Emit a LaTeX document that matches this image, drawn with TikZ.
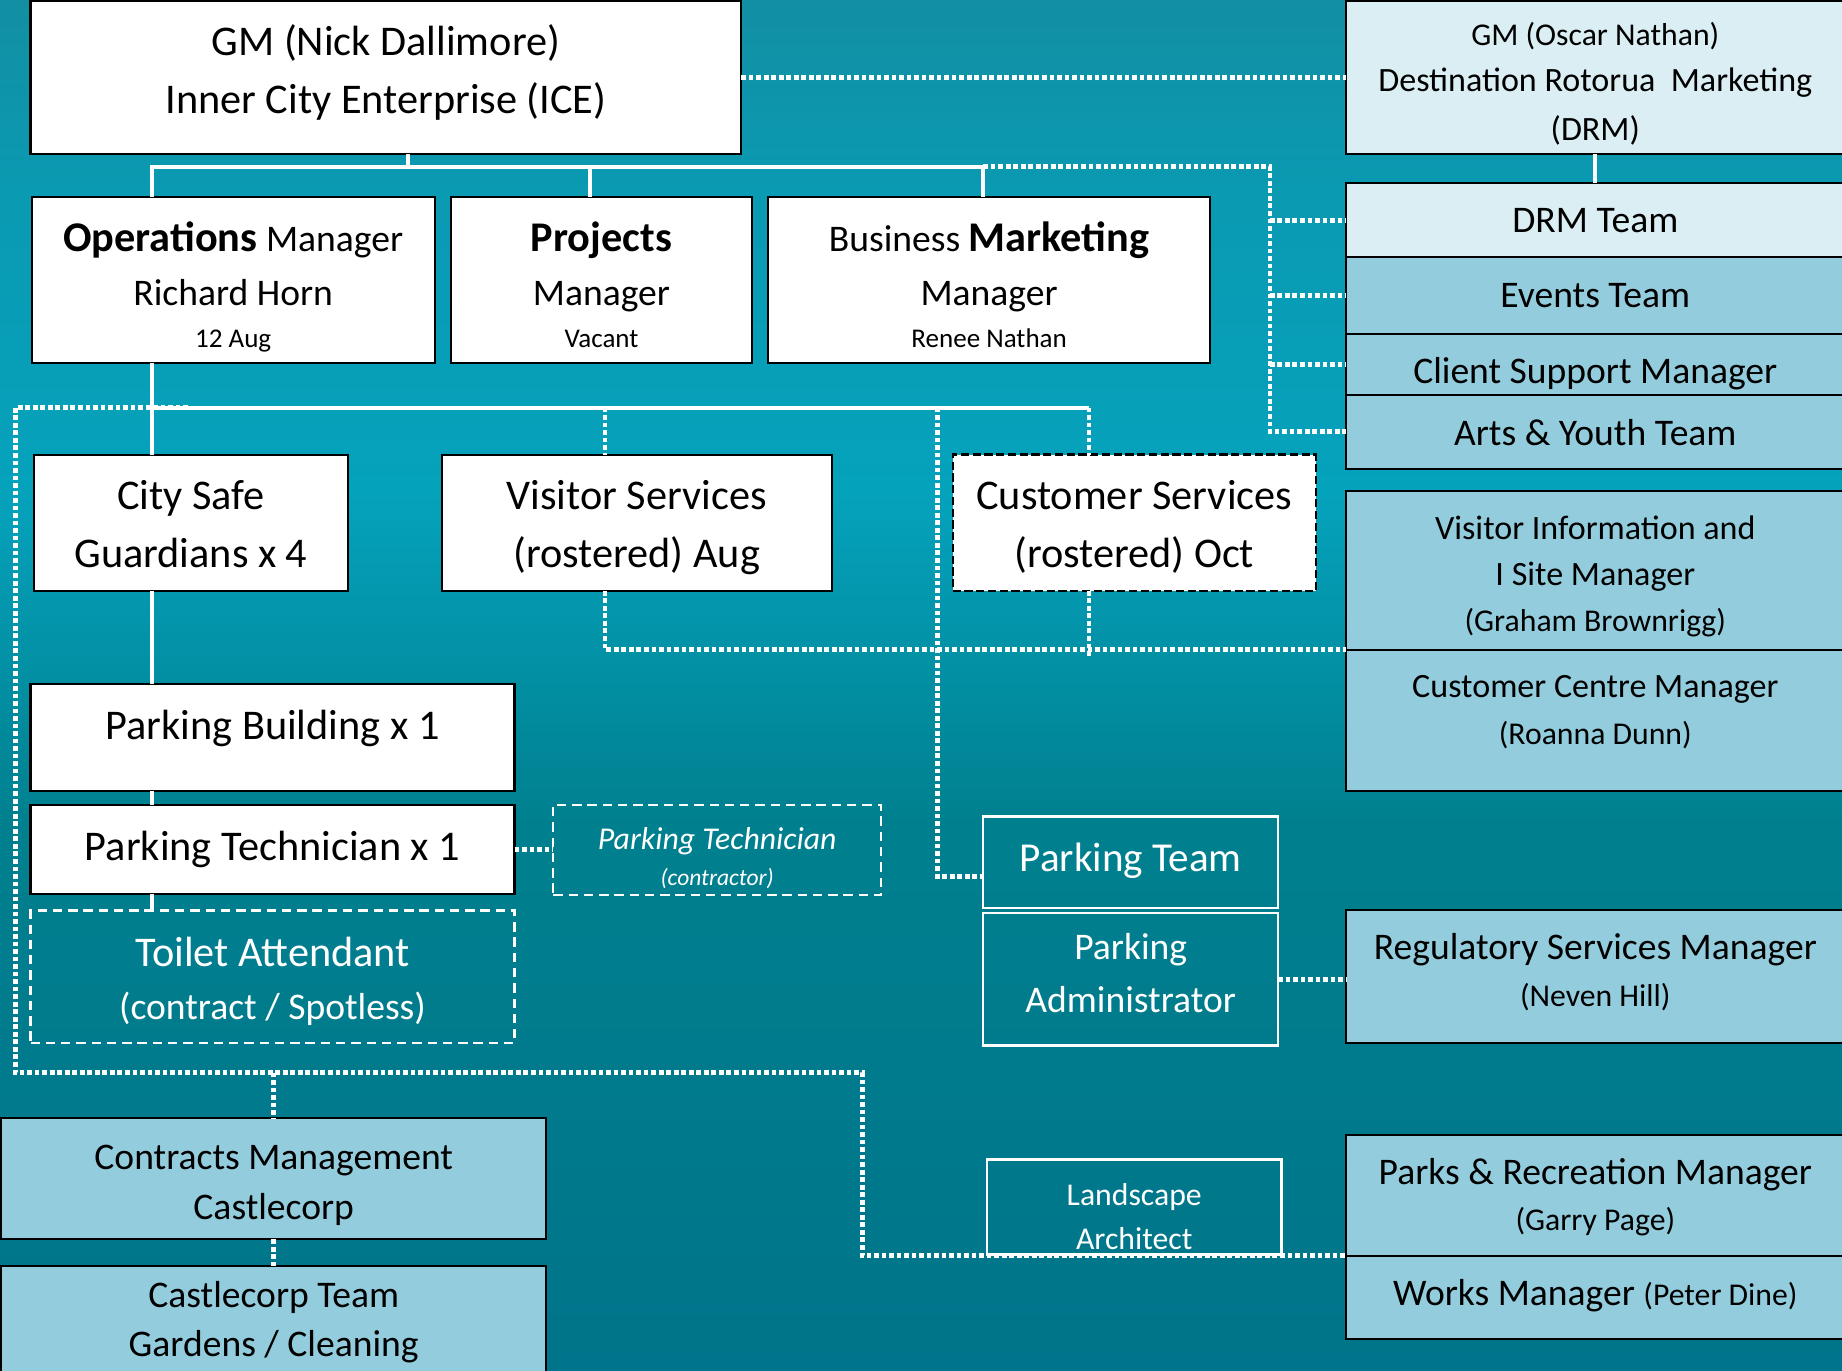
\documentclass[tikz,border=0pt]{standalone}
\usepackage{fontspec}
\setmainfont{Carlito}
\usetikzlibrary{positioning}

\definecolor{drmpale}{HTML}{DAEEF3}
\definecolor{teamblue}{HTML}{93CDDD}
\definecolor{seatop}{HTML}{128FA3}
\definecolor{seamid}{HTML}{0A9AB2}
\definecolor{seabright}{HTML}{05A2BC}
\definecolor{sealow}{HTML}{00808F}
\definecolor{seadeep}{HTML}{00748A}

\pgfdeclareverticalshading{seabg}{100bp}{color(0bp)=(seadeep); color(25bp)=(seadeep); color(45bp)=(sealow); color(57bp)=(seabright); color(68bp)=(seamid); color(75bp)=(seatop); color(100bp)=(seatop)}

\newcommand{\setfs}[2]{\fontsize{#1}{#2}\selectfont}
\newcommand{\upstrut}[1]{\rule{0pt}{#1}}
\newcommand{\dnstrut}[1]{\rule[-#1]{0pt}{#1}}

\begin{document}
\begin{tikzpicture}[x=0.5pt, y=-0.5pt,
            orgbox/.style={draw=black, line width=0.9pt, fill=white, text=black, align=center, inner sep=0pt, outer sep=0pt, anchor=north west},
            palebox/.style={orgbox, fill=drmpale, minimum width=212pt},
            teambox/.style={orgbox, fill=teamblue, minimum width=212pt},
            openbox/.style={orgbox, draw=white, line width=1pt, fill=none, text=white},
            contractbox/.style={openbox, dash pattern=on 4pt off 2.5pt},
            orgline/.style={draw=white, line width=1.7pt},
            dotline/.style={draw=white, line width=2pt, dash pattern=on 2pt off 1.2pt}]

            \useasboundingbox (0,0) rectangle (1568,1167);
            \clip (0,0) rectangle (1568,1167);
            \shade[shading=seabg] (0,0) rectangle (1568,1167);

            % General managers
            \node[orgbox, minimum width=302.5pt, minimum height=65pt, font=\setfs{18}{24.8}] (gmice) at (26,1) {\upstrut{17.5pt}GM (Nick Dallimore)\\Inner City Enterprise (ICE)\dnstrut{11.3pt}};
            \node[palebox, minimum height=65pt, font=\setfs{14.5}{19.6}] (gmdrm) at (1146,1) {\upstrut{18pt}{\setfs{13.5}{19.6}GM (Oscar Nathan)}\\Destination Rotorua\ \ Marketing\\[1.25pt](DRM)\dnstrut{4.6pt}};

            % Managers under ICE
            \node[orgbox, minimum width=171.5pt, minimum height=70.5pt, font=\setfs{16}{23}] (ops) at (27,168) {\upstrut{20pt}{\setfs{18}{23}\bfseries Operations} Manager\\Richard Horn\\[-5.2pt]{\setfs{11.5}{14}12 Aug}\dnstrut{3.5pt}};
            \node[orgbox, minimum width=128pt, minimum height=70.5pt, font=\setfs{16}{23}] (proj) at (384,168) {\upstrut{20pt}{\setfs{18}{23}\bfseries Projects}\\Manager\\[-5.2pt]{\setfs{11.5}{14}Vacant}\dnstrut{3.5pt}};
            \node[orgbox, minimum width=188pt, minimum height=70.5pt, font=\setfs{16}{23}] (bmkt) at (654,168) {\upstrut{20pt}Business {\setfs{18}{23}\bfseries Marketing}\\Manager\\[-5.2pt]{\setfs{11.5}{14}Renee Nathan}\dnstrut{3.5pt}};

            % DRM and council teams (right column)
            \node[palebox, minimum height=31.5pt, font=\setfs{16}{20}] (drmteam) at (1146,156) {\upstrut{16pt}DRM Team\dnstrut{5.7pt}};
            \node[teambox, minimum height=32.5pt, font=\setfs{16}{20}, below=0pt of drmteam] (events) {\upstrut{16pt}Events Team\dnstrut{5.9pt}};
            \node[teambox, minimum height=26pt, font=\setfs{16}{20}, below=0pt of events] (client) {\upstrut{21.4pt}Client Support Manager\dnstrut{4.6pt}};
            \node[teambox, minimum height=31.5pt, font=\setfs{16}{20}, below=0pt of client] (arts) {\upstrut{16pt}Arts \& Youth Team\dnstrut{4.7pt}};
            \node[teambox, minimum height=67.5pt, font=\setfs{14.5}{19.7}] (visinfo) at (1146,418) {\upstrut{17pt}Visitor Information and\\I Site Manager\\{\setfs{13.5}{19.7}(Graham Brownrigg)}\dnstrut{4.2pt}};
            \node[teambox, minimum height=60pt, font=\setfs{14.5}{19.9}, below=0pt of visinfo] (custcentre) {\upstrut{14.5pt}Customer Centre Manager\\{\setfs{13.5}{19.9}(Roanna Dunn)}\dnstrut{14pt}};
            \node[teambox, minimum height=56.5pt, font=\setfs{16}{19.85}] (regsvc) at (1146,775) {\upstrut{15pt}Regulatory Services Manager\\{\setfs{13.5}{19.85}(Neven Hill)}\dnstrut{9.85pt}};
            \node[teambox, minimum height=51.5pt, font=\setfs{16}{19.9}] (parks) at (1146,966) {\upstrut{16pt}Parks \& Recreation Manager\\{\setfs{13.5}{19.9}(Garry Page)}\dnstrut{5.7pt}};
            \node[teambox, minimum height=35.5pt, font=\setfs{16}{20}, below=0pt of parks] (works) {\upstrut{16pt}Works Manager {\setfs{13.5}{20}(Peter Dine)}\dnstrut{9pt}};

            % Operations staff
            \node[orgbox, minimum width=133.5pt, minimum height=58pt, font=\setfs{18}{24.8}] (citysafe) at (29,387) {\upstrut{19.5pt}City Safe\\Guardians x 4\dnstrut{5.8pt}};
            \node[orgbox, minimum width=166pt, minimum height=58pt, font=\setfs{18}{24.8}] (vissvc) at (376,387) {\upstrut{19.5pt}Visitor Services\\(rostered) Aug\dnstrut{5.8pt}};
            \node[orgbox, line width=1pt, dash pattern=on 3.5pt off 1.5pt, minimum width=154.5pt, minimum height=58pt, font=\setfs{18}{24.8}] (custsvc) at (811,387) {\upstrut{19.5pt}Customer Services\\(rostered) Oct\dnstrut{5.8pt}};
            \node[orgbox, minimum width=206pt, minimum height=45.5pt, font=\setfs{18}{25}] (pbuild) at (26,582) {\upstrut{17.5pt}Parking Building x 1\dnstrut{15.3pt}};
            \node[orgbox, minimum width=206pt, minimum height=38pt, font=\setfs{18}{25}, below=6pt of pbuild] (ptech) {\upstrut{17pt}Parking Technician x 1\dnstrut{7.8pt}};
            \node[contractbox, minimum width=139.5pt, minimum height=38.5pt, font={\setfs{13.5}{15.6}\itshape}] (ptcon) at (471,685) {\upstrut{18pt}Parking Technician\\{\setfs{10}{15.6}(contractor)}\dnstrut{3.1pt}};
            \node[contractbox, minimum width=206pt, minimum height=56.5pt, font=\setfs{18}{22.3}, below=7pt of ptech] (toilet) {\upstrut{19pt}Toilet Attendant\\{\setfs{16}{22.3}(contract / Spotless)}\dnstrut{5.3pt}};

            % Parking and landscape
            \node[openbox, minimum width=125.5pt, minimum height=39pt, font=\setfs{17.5}{22}] (pteam) at (837,695) {\upstrut{16.5pt}Parking Team\dnstrut{8.4pt}};
            \node[openbox, minimum width=125.5pt, minimum height=56.5pt, font=\setfs{16}{22.4}, below=2pt of pteam] (padmin) {\upstrut{16pt}Parking\\Administrator\dnstrut{10.1pt}};
            \node[openbox, minimum width=125.5pt, minimum height=40.5pt, font=\setfs{13.5}{18.75}] (landarch) at (840,987) {\upstrut{19pt}Landscape\\Architect\dnstrut{2pt}};

            % Contracts
            \node[teambox, minimum width=232pt, minimum height=51.5pt, font=\setfs{16}{21.55}] (contracts) at (1,952) {\upstrut{17.5pt}Contracts Management\\Castlecorp\dnstrut{4.25pt}};
            \node[teambox, minimum width=232pt, minimum height=53.5pt, font=\setfs{16}{20.6}, below=11.5pt of contracts] (castle) {\upstrut{14pt}Castlecorp Team\\Gardens / Cleaning\dnstrut{11.5pt}};

            % Solid reporting lines
            \coordinate (bus-top) at (347,142);
            \coordinate (drop-ops) at (129,142);
            \coordinate (drop-proj) at (502,142);
            \coordinate (drop-mkt) at (837,142);
            \coordinate (bus-l3) at (129,347);
            \coordinate (bus-l3-end) at (927,347);
            \draw[orgline] (gmice.south -| bus-top) -- (bus-top);
            \draw[orgline] (ops.north -| drop-ops) -- (drop-ops) -- (drop-mkt) -- (bmkt.north -| drop-mkt);
            \draw[orgline] (drop-proj) -- (proj.north -| drop-proj);
            \draw[orgline] (gmdrm.south) -- (drmteam.north);
            \draw[orgline] (ops.south -| bus-l3) -- (citysafe.north -| bus-l3);
            \draw[orgline] (bus-l3) -- (bus-l3-end);
            \draw[orgline] (citysafe.south -| bus-l3) -- (pbuild.north -| bus-l3);
            \draw[orgline] (pbuild.south -| bus-l3) -- (ptech.north -| bus-l3);
            \draw[orgline] (ptech.south -| bus-l3) -- (toilet.north -| bus-l3);

            % Dotted working relationships
            \coordinate (mkt-rail) at (1081,142);
            \coordinate (drop-vis) at (515,347);
            \coordinate (drop-park) at (798,347);
            \coordinate (cs-stub) at (927,560);
            \coordinate (loop-start) at (160,347);
            \coordinate (loop-nw) at (13,347);
            \coordinate (loop-sw) at (13,913);
            \coordinate (loop-turn) at (734,913);
            \draw[dotline] (gmice.east) -- (gmdrm.west);
            \draw[dotline] (drop-mkt) -- (mkt-rail) |- (arts.west);
            \foreach \team in {drmteam, events, client}
                \draw[dotline] (mkt-rail |- \team.west) -- (\team.west);
            \draw[dotline] (bus-l3-end) -- (custsvc.north -| bus-l3-end);
            \draw[dotline] (drop-vis) -- (vissvc.north -| drop-vis);
            \draw[dotline] (vissvc.south -| drop-vis) |- (visinfo.south west);
            \draw[dotline] (custsvc.south -| cs-stub) -- (cs-stub);
            \draw[dotline] (drop-park) |- ([yshift=-6pt]pteam.west);
            \draw[dotline] (ptech.east) -- (ptech.east -| ptcon.west);
            \draw[dotline] (padmin.east) -- (padmin.east -| regsvc.west);
            \draw[dotline] (loop-start) -- (loop-nw) -- (loop-sw) -- (loop-turn) |- (parks.south west);
            \draw[dotline] (contracts.north |- loop-sw) -- (contracts.north);
            \draw[dotline] (contracts.south) -- (castle.north);
        \end{tikzpicture}
\end{document}
